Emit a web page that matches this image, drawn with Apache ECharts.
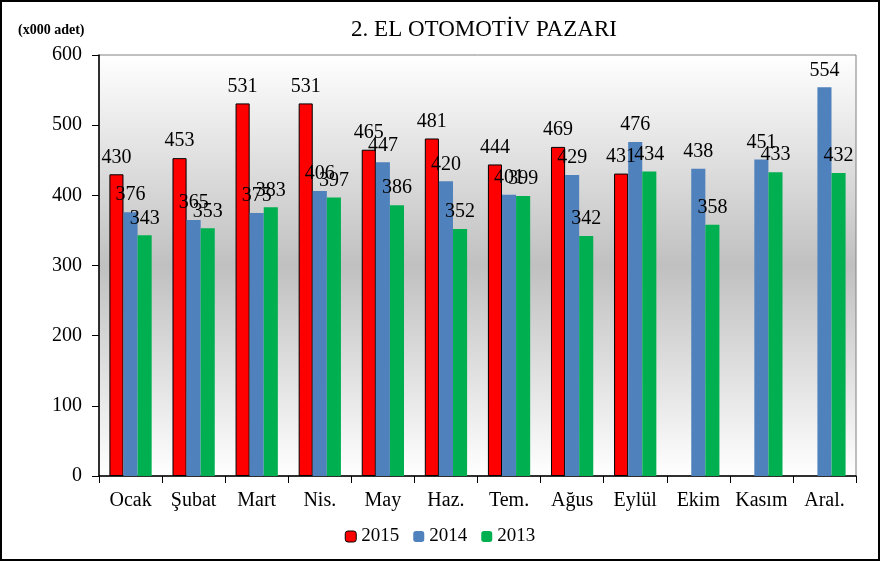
<!DOCTYPE html>
<html><head><meta charset="utf-8">
<script src="https://cdn.jsdelivr.net/npm/echarts@6/dist/echarts.min.js"></script>
<style>html,body{margin:0;padding:0;background:#fff}#c{width:880px;height:561px;box-sizing:border-box;border:2px solid #000}</style>
</head><body><div id="c"></div>
<script>
const categories = ['Ocak','Şubat','Mart','Nis.','May','Haz.','Tem.','Ağus','Eylül','Ekim','Kasım','Aral.'];
const s2015 = [430,453,531,531,465,481,444,469,431,null,null,null];
const s2014 = [376,365,375,406,447,420,401,429,476,438,451,554];
const s2013 = [343,353,383,397,386,352,399,342,434,358,433,432];
const yTicks = [0,100,200,300,400,500,600];
const FONT = 'Liberation Serif';
const chart = echarts.init(document.getElementById('c'));
const lbl = {show:true, position:'top', distance:7, color:'#000', fontFamily:FONT, fontSize:20};
chart.setOption({
  animation:false,
  title:{text:'2. EL OTOMOTİV PAZARI', left:477, textAlign:'center', top:11, textStyle:{fontFamily:FONT, fontSize:23, fontWeight:'normal', color:'#000'}},
  graphic:[{type:'text', left:16, top:21, style:{text:'(x000 adet)', font:'bold 14px "Liberation Serif"', fill:'#000'}}],
  legend:{bottom:8, left:'center', itemWidth:11, itemHeight:11, itemGap:14, textStyle:{fontFamily:FONT, fontSize:19, color:'#000'},
    data:[{name:'2015', itemStyle:{borderColor:'#000', borderWidth:1}}, {name:'2014'}, {name:'2013'}]},
  grid:{left:97, right:22, top:53, bottom:83, show:true, borderColor:'#808080', borderWidth:1,
    backgroundColor:{type:'linear', x:0, y:0, x2:0, y2:1, colorStops:[{offset:0,color:'#ffffff'},{offset:0.5,color:'#c0c0c0'},{offset:1,color:'#ffffff'}]}},
  xAxis:{type:'category', data:categories,
    axisLine:{lineStyle:{color:'#000', width:1.5}},
    axisTick:{show:true, length:7, inside:false, lineStyle:{color:'#000'}},
    axisLabel:{fontFamily:FONT, fontSize:20, color:'#000', margin:15, interval:0}},
  yAxis:{type:'value', min:0, max:600, interval:100,
    axisLine:{show:true, lineStyle:{color:'#000', width:1.5}},
    axisTick:{show:true, length:7, lineStyle:{color:'#000'}},
    splitLine:{show:false},
    axisLabel:{fontFamily:FONT, fontSize:20, color:'#000', margin:17, formatter:v=>yTicks.includes(v)?String(v):''}},
  series:[
    {name:'2015', type:'bar', data:s2015, barGap:'0%', barCategoryGap:'33%', itemStyle:{color:'#ff0000', borderColor:'#000', borderWidth:1}, label:lbl},
    {name:'2014', type:'bar', data:s2014, barGap:'0%', barCategoryGap:'33%', itemStyle:{color:'#4f81bd'}, label:lbl},
    {name:'2013', type:'bar', data:s2013, barGap:'0%', barCategoryGap:'33%', itemStyle:{color:'#00b050'}, label:lbl}
  ]
});
</script></body></html>
